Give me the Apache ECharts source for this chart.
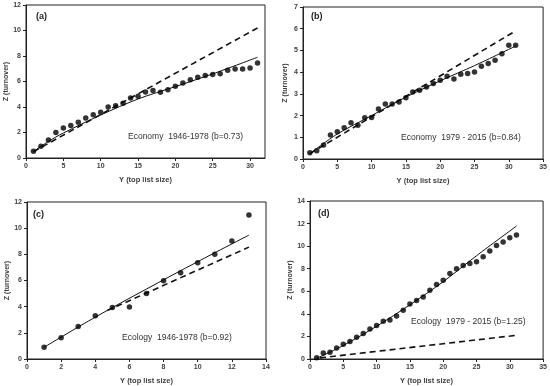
<!DOCTYPE html>
<html><head><meta charset="utf-8">
<script src="https://cdn.jsdelivr.net/npm/echarts@6/dist/echarts.min.js"></script>
<style>html,body{margin:0;padding:0;background:#fff}#c{width:550px;height:386px}</style>
</head><body><div id="c"></div>
<script>
// ---- data ----
const xYears = [1,2,3,4,5,6,7,8,9,10,11,12,13,14,15,16,17,18,19,20,21,22,23,24,25,26,27,28,29,30,31];
const econ1Z = [0.52,0.92,1.41,2.0,2.35,2.54,2.8,3.14,3.4,3.58,4.0,4.1,4.3,4.7,4.85,5.18,5.3,5.15,5.36,5.62,5.88,6.14,6.33,6.48,6.54,6.6,6.88,6.98,6.98,7.06,7.45];
const econ1FitX = [1,3,5,10,15,20,25,31];
const econ1FitZ = [0.5,1.3,1.96,3.37,4.63,5.6,6.6,7.9];
const econ1NullX = [1,31];
const econ1NullZ = [0.5,10.2];

const econ2Z = [0.29,0.38,0.64,1.10,1.26,1.44,1.67,1.56,1.9,1.91,2.3,2.53,2.53,2.63,2.82,3.09,3.17,3.32,3.48,3.63,3.81,3.68,3.9,3.94,4.01,4.27,4.4,4.55,4.85,5.24,5.24];
const econ2FitX = [1,5,10,15,20,25,31];
const econ2FitZ = [0.25,1.15,2.0,2.85,3.6,4.3,5.2];
const econ2NullX = [1,31];
const econ2NullZ = [0.25,5.9];

const ecol1X = [1,2,3,4,5,6,7,8,9,10,11,12,13];
const ecol1Z = [0.89,1.62,2.49,3.3,3.93,3.98,5.0,5.99,6.6,7.36,8.0,9.01,11.0];
const ecol1FitX = [1,4,7,10,13];
const ecol1FitZ = [0.9,3.2,5.35,7.44,9.47];
const ecol1NullX = [4.7,13];
const ecol1NullZ = [3.7,8.55];

const ecol2Z = [0.12,0.53,0.59,0.98,1.3,1.54,1.92,2.25,2.66,2.96,3.34,3.46,3.82,4.32,4.88,5.18,5.5,6.09,6.6,6.98,7.57,7.99,8.28,8.46,8.61,9.05,9.56,10.06,10.36,10.74,10.98];
const ecol2FitX = [1,5,10,15,20,25,31];
const ecol2FitZ = [0.05,1.2,2.9,4.8,6.85,9.15,11.78];
const ecol2NullX = [1.5,31];
const ecol2NullZ = [0.1,2.1];

const panelLabels = ['(a)','(b)','(c)','(d)'];
const notes = ['Economy  1946-1978 (b=0.73)','Economy  1979 - 2015 (b=0.84)','Ecology  1946-1978 (b=0.92)','Ecology  1979 - 2015 (b=1.25)'];
const xTitle = 'Y (top list size)';
const yTitle = 'Z (turnover)';

// ---- chart ----
const pair = (xs, ys) => xs.map((x, i) => [x, ys[i]]);
const grids = [
  {left: 26, top: 5, width: 239, height: 153},
  {left: 303, top: 7, width: 243, height: 152},
  {left: 27, top: 202, width: 239, height: 158},
  {left: 310, top: 201, width: 237, height: 158}
];
const xCfg = [{max: 32, interval: 5}, {max: 35, interval: 5}, {max: 14, interval: 2}, {max: 35, interval: 5}];
const yCfg = [{max: 12, interval: 2}, {max: 7, interval: 1}, {max: 12, interval: 2}, {max: 14, interval: 2}];
const labelFont = {fontFamily: 'Liberation Sans', fontSize: 7, fontWeight: 'bold', color: '#404040'};

const xAxis = xCfg.map((c, i) => ({
  type: 'value', gridIndex: i, min: 0, max: c.max, interval: c.interval,
  name: xTitle, nameLocation: 'middle', nameGap: 18,
  nameTextStyle: Object.assign({}, labelFont, {fontSize: 7.5}),
  axisLine: {onZero: false, lineStyle: {color: '#222', width: 1}},
  axisTick: {show: true, inside: false, length: 3, lineStyle: {color: '#222'}},
  axisLabel: Object.assign({margin: 5, showMaxLabel: c.max % c.interval === 0}, labelFont),
  splitLine: {show: false}
}));
const yAxis = yCfg.map((c, i) => ({
  type: 'value', gridIndex: i, min: 0, max: c.max, interval: c.interval,
  name: yTitle, nameLocation: 'middle', nameGap: 14,
  nameTextStyle: Object.assign({}, labelFont),
  axisLine: {onZero: false, lineStyle: {color: '#222', width: 1}},
  axisTick: {show: true, inside: false, length: 3, lineStyle: {color: '#222'}},
  axisLabel: Object.assign({margin: 5}, labelFont),
  splitLine: {show: false}
}));

function panelSeries(i, pts, fit, nul) {
  return [
    {type: 'line', xAxisIndex: i, yAxisIndex: i, data: nul, symbol: 'none', z: 2,
     lineStyle: {color: '#111', width: 1.6, type: [6, 4]}, silent: true},
    {type: 'line', xAxisIndex: i, yAxisIndex: i, data: fit, symbol: 'none', smooth: 0.3, z: 3,
     lineStyle: {color: '#111', width: 1}, silent: true},
    {type: 'scatter', xAxisIndex: i, yAxisIndex: i, data: pts, symbol: 'circle', symbolSize: 5.5, z: 4,
     itemStyle: {color: '#000'}, silent: true}
  ];
}
const series = [].concat(
  panelSeries(0, pair(xYears, econ1Z), pair(econ1FitX, econ1FitZ), pair(econ1NullX, econ1NullZ)),
  panelSeries(1, pair(xYears, econ2Z), pair(econ2FitX, econ2FitZ), pair(econ2NullX, econ2NullZ)),
  panelSeries(2, pair(ecol1X, ecol1Z), pair(ecol1FitX, ecol1FitZ), pair(ecol1NullX, ecol1NullZ)),
  panelSeries(3, pair(xYears, ecol2Z), pair(ecol2FitX, ecol2FitZ), pair(ecol2NullX, ecol2NullZ))
);

const labelPos = [[36, 12], [311, 12], [33, 210], [318, 209]];
const notePos = [[128, 132], [401, 133], [122, 333], [411, 317]];
const graphic = [];
panelLabels.forEach((t, i) => graphic.push({type: 'text', left: labelPos[i][0], top: labelPos[i][1], z: 10,
  style: {text: t, font: 'bold 9px "Liberation Sans"', fill: '#222'}}));
notes.forEach((t, i) => graphic.push({type: 'text', left: notePos[i][0], top: notePos[i][1], z: 10,
  style: {text: t, font: '8.5px "Liberation Sans"', fill: '#333'}}));

const chart = echarts.init(document.getElementById('c'), null, {renderer: 'canvas'});
chart.setOption({
  animation: false,
  backgroundColor: '#fff',
  grid: grids.map(g => Object.assign({show: true, borderColor: '#222', borderWidth: 1, backgroundColor: 'transparent'}, g)),
  xAxis, yAxis, series, graphic
});
</script></body></html>
